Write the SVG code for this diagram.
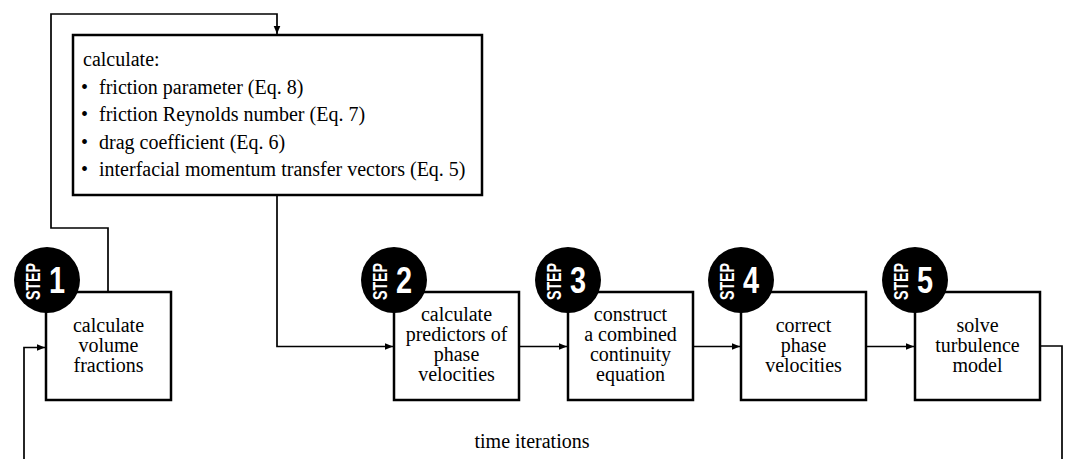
<svg xmlns="http://www.w3.org/2000/svg" width="1067" height="459" viewBox="0 0 1067 459">
<style>
.box{fill:#fff;stroke:#000;stroke-width:2.5}
.conn{fill:none;stroke:#000;stroke-width:1.7}
.t{font-family:"Liberation Serif","Times New Roman",serif;font-size:20px;fill:#000}
.c{text-anchor:middle}
.badge{fill:#000}
.step{font-family:"Liberation Sans",Arial,sans-serif;font-weight:bold;fill:#fff;font-size:21px}
.num{font-family:"Liberation Sans",Arial,sans-serif;font-weight:bold;fill:#fff;font-size:37px}
</style>
<defs>
<marker id="arr" markerUnits="userSpaceOnUse" markerWidth="9" markerHeight="8" refX="8.5" refY="3.5" orient="auto">
<path d="M0,0 L8.5,3.5 L0,7 z" fill="#000"/>
</marker>
<g id="stepbadge">
<circle cx="0" cy="0" r="33" class="badge"/>
</g>
</defs>
<g id="connectors">
<path class="conn" d="M108,292 V228 H51 V14 H277 V34" marker-end="url(#arr)"/>
<path class="conn" d="M277,196 V346.5 H393" marker-end="url(#arr)"/>
<path class="conn" d="M519,346.5 H567" marker-end="url(#arr)"/>
<path class="conn" d="M693,346.5 H740" marker-end="url(#arr)"/>
<path class="conn" d="M866,346.5 H914" marker-end="url(#arr)"/>
<path class="conn" d="M1040,346 H1062 V459"/>
<path class="conn" d="M24,459 V347.5 H45" marker-end="url(#arr)"/>
</g>
<g id="calc-box">
<rect class="box" x="73" y="35" width="409" height="160"/>
<text class="t" x="83" y="66">calculate:</text>
<text class="t" x="81" y="93.5">•</text>
<text class="t" x="99" y="93.5">friction parameter (Eq. 8)</text>
<text class="t" x="81" y="121">•</text>
<text class="t" x="99" y="121">friction Reynolds number (Eq. 7)</text>
<text class="t" x="81" y="148.5">•</text>
<text class="t" x="99" y="148.5">drag coefficient (Eq. 6)</text>
<text class="t" x="81" y="176">•</text>
<text class="t" x="99" y="176">interfacial momentum transfer vectors (Eq. 5)</text>
</g>
<g id="step1">
<rect class="box" x="46" y="292" width="125" height="108"/>
<text class="t c" x="108.5" y="332">calculate</text>
<text class="t c" x="108.5" y="352">volume</text>
<text class="t c" x="108.5" y="372">fractions</text>
<circle cx="47" cy="280" r="33" class="badge"/>
<text class="step" transform="translate(40,300) rotate(-90)" textLength="37" lengthAdjust="spacingAndGlyphs">STEP</text>
<text class="num" transform="translate(49,293) scale(0.78,1)">1</text>
</g>
<g id="step2">
<rect class="box" x="394" y="292" width="125" height="108"/>
<text class="t c" x="456.5" y="321">calculate</text>
<text class="t c" x="456.5" y="341">predictors of</text>
<text class="t c" x="456.5" y="361">phase</text>
<text class="t c" x="456.5" y="381">velocities</text>
<circle cx="394" cy="280" r="33" class="badge"/>
<text class="step" transform="translate(387,300) rotate(-90)" textLength="37" lengthAdjust="spacingAndGlyphs">STEP</text>
<text class="num" transform="translate(396,293) scale(0.78,1)">2</text>
</g>
<g id="step3">
<rect class="box" x="568" y="292" width="125" height="108"/>
<text class="t c" x="630.5" y="321">construct</text>
<text class="t c" x="630.5" y="341">a combined</text>
<text class="t c" x="630.5" y="361">continuity</text>
<text class="t c" x="630.5" y="381">equation</text>
<circle cx="568" cy="280" r="33" class="badge"/>
<text class="step" transform="translate(561,300) rotate(-90)" textLength="37" lengthAdjust="spacingAndGlyphs">STEP</text>
<text class="num" transform="translate(570,293) scale(0.78,1)">3</text>
</g>
<g id="step4">
<rect class="box" x="741" y="292" width="125" height="108"/>
<text class="t c" x="803.5" y="332">correct</text>
<text class="t c" x="803.5" y="352">phase</text>
<text class="t c" x="803.5" y="372">velocities</text>
<circle cx="741" cy="280" r="33" class="badge"/>
<text class="step" transform="translate(734,300) rotate(-90)" textLength="37" lengthAdjust="spacingAndGlyphs">STEP</text>
<text class="num" transform="translate(743,293) scale(0.78,1)">4</text>
</g>
<g id="step5">
<rect class="box" x="915" y="292" width="125" height="108"/>
<text class="t c" x="977.5" y="332">solve</text>
<text class="t c" x="977.5" y="352">turbulence</text>
<text class="t c" x="977.5" y="372">model</text>
<circle cx="915" cy="280" r="33" class="badge"/>
<text class="step" transform="translate(908,300) rotate(-90)" textLength="37" lengthAdjust="spacingAndGlyphs">STEP</text>
<text class="num" transform="translate(917,293) scale(0.78,1)">5</text>
</g>
<g id="label">
<text class="t c" x="532" y="448">time iterations</text>
</g>
</svg>
